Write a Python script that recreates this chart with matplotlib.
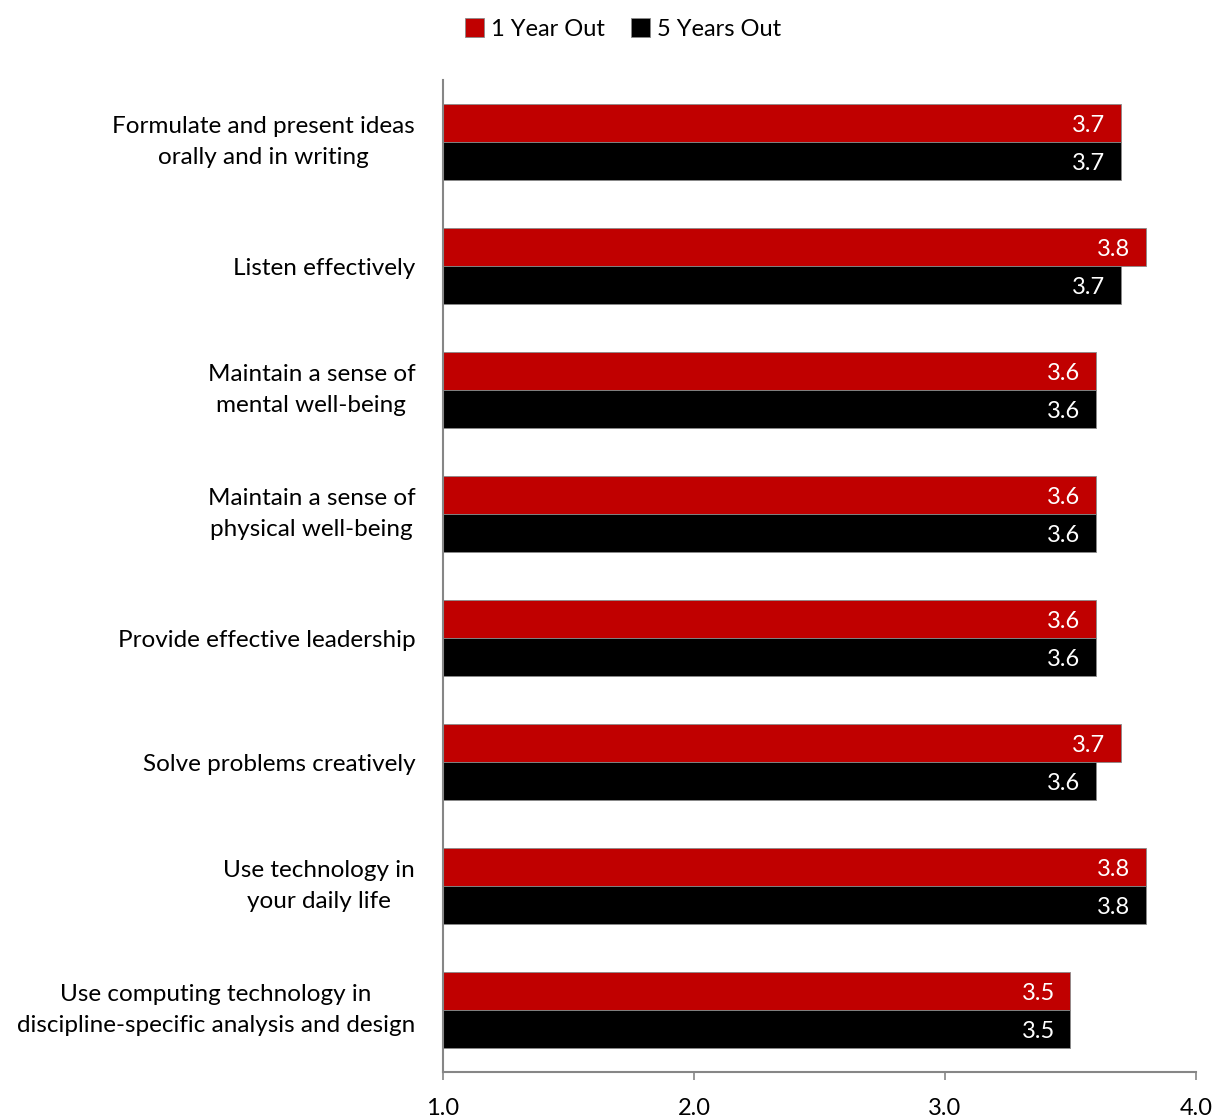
import matplotlib.pyplot as plt
import numpy as np

plt.rcParams['font.family'] = ['Lato', 'DejaVu Sans']

# data
categories = [
    "Formulate and present ideas\norally and in writing",
    "Listen effectively",
    "Maintain a sense of\nmental well-being",
    "Maintain a sense of\nphysical well-being",
    "Provide effective leadership",
    "Solve problems creatively",
    "Use technology in\nyour daily life",
    "Use computing technology in\ndiscipline-specific analysis and design",
]
one_year = [3.7, 3.8, 3.6, 3.6, 3.6, 3.7, 3.8, 3.5]
five_years = [3.7, 3.7, 3.6, 3.6, 3.6, 3.6, 3.8, 3.5]
series_names = ["1 Year Out", "5 Years Out"]
x_ticks = [1.0, 2.0, 3.0, 4.0]

red = '#C00000'
black = '#000000'
grey = '#868686'

fig = plt.figure(figsize=(12.19, 11.19), dpi=100)
ax = fig.add_axes([0.3634, 0.0420, 0.9811 - 0.3634, 0.9285 - 0.0420])

y = np.arange(len(categories))
h = 0.306
base = 1.0
b1 = ax.barh(y - h / 2, np.array(one_year) - base, left=base, height=h,
             color=red, edgecolor='#8a8a8a', linewidth=0.6, label=series_names[0])
b2 = ax.barh(y + h / 2, np.array(five_years) - base, left=base, height=h,
             color=black, edgecolor='#8a8a8a', linewidth=0.6, label=series_names[1])

# value labels inside bar ends
for bars, vals in [(b1, one_year), (b2, five_years)]:
    for bar, v in zip(bars, vals):
        ax.annotate(f"{v:.1f}", (v, bar.get_y() + bar.get_height() / 2),
                    xytext=(-11, -1.5), textcoords='offset points',
                    ha='right', va='center', color='white', fontsize=17)

ax.set_xlim(1.0, 4.0)
ax.set_ylim(len(categories) - 0.5, -0.5)
ax.set_xticks(x_ticks)
ax.set_xticklabels([f"{t:.1f}" for t in x_ticks], fontsize=17)
ax.set_yticks(y)
ax.set_yticklabels(categories, fontsize=17.5, multialignment='center', linespacing=1.6)
# two-line labels centre on their box, one-liners on the baseline
for lbl in ax.get_yticklabels():
    if "\n" in lbl.get_text():
        lbl.set_va('center')

ax.tick_params(axis='y', length=0, pad=20)
ax.tick_params(axis='x', direction='out', length=6, width=1.2, color=grey, pad=13)

for s in ['top', 'right']:
    ax.spines[s].set_visible(False)
for s in ['left', 'bottom']:
    ax.spines[s].set_color(grey)
    ax.spines[s].set_linewidth(1.5)

fig.legend(handles=[b1, b2], labels=series_names, loc='center',
           bbox_to_anchor=(0.511, 0.974), ncol=2, frameon=False, fontsize=17,
           handlelength=0.8, handleheight=0.8, handletextpad=0.3, columnspacing=1.1)

fig.savefig('out.png', dpi=100)
